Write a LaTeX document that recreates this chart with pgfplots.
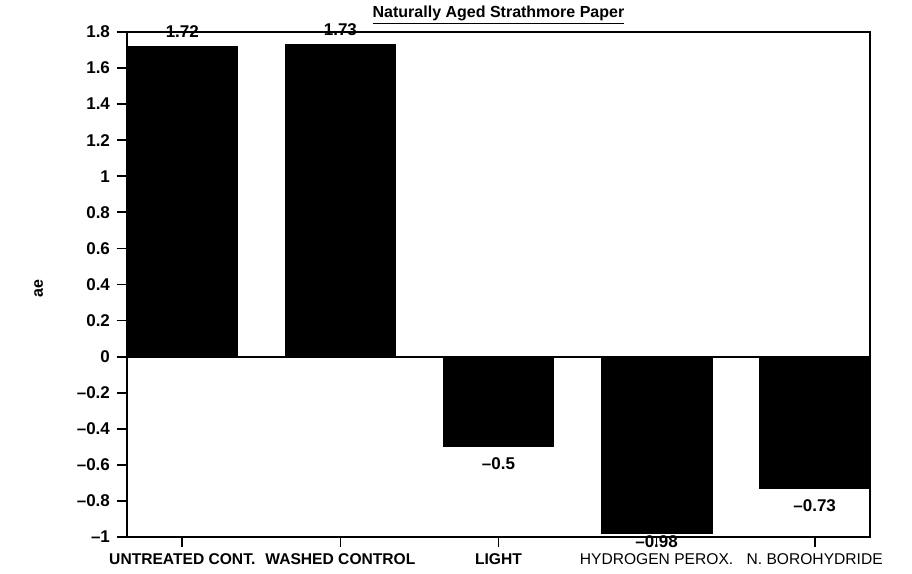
\documentclass[border=0pt]{standalone}
\usepackage{fontspec}
\setmainfont{Liberation Sans}
\usepackage{pgfplots}
\pgfplotsset{compat=1.18}

\begin{document}
\begin{tikzpicture}
\path[use as bounding box] (-63.5pt,-18.5pt) rectangle (392.5pt,268.5pt);
\begin{axis}[
    at={(0,0)}, anchor=south west,
    scale only axis,
    width=371.5pt, height=252.5pt,
    ymin=-1, ymax=1.8,
    xmin=-0.35, xmax=4.35,
    ybar, bar width=0.7,
    axis line style={line width=0.9pt},
    tick style={line width=0.9pt, black},
    tick align=outside,
    major tick length=5pt,
    xtick pos=lower, ytick pos=left,
    xtick={0,1,2,3,4},
    xticklabels={\textbf{UNTREATED CONT.}, \textbf{WASHED CONTROL}, \textbf{LIGHT}, HYDROGEN PEROX., N. BOROHYDRIDE},
    x tick label style={font=\fontsize{7.8}{9}\selectfont, yshift=0pt},
    ytick={-1,-0.8,-0.6,-0.4,-0.2,0,0.2,0.4,0.6,0.8,1,1.2,1.4,1.6,1.8},
    yticklabels={--1,--0.8,--0.6,--0.4,--0.2,0,0.2,0.4,0.6,0.8,1,1.2,1.4,1.6,1.8},
    y tick label style={font=\fontsize{8.5}{9}\selectfont\bfseries},
    ylabel={\textbf{ae}},
    ylabel style={font=\fontsize{8}{9}\selectfont, xshift=-2pt},
    title={\bfseries\underline{Naturally Aged Strathmore Paper}},
    title style={font=\fontsize{8}{9}\selectfont, yshift=-6pt},
    extra y ticks={0},
    extra y tick labels={},
    extra y tick style={grid=major, major grid style={black, line width=0.9pt}},
    point meta=explicit symbolic,
    nodes near coords,
    nodes near coords style={font=\fontsize{8.5}{9}\selectfont\bfseries},
    clip=false,
]
% positive bars
\addplot[fill=black, draw=black, bar shift=0pt,
    nodes near coords style={anchor=south, yshift=1pt}] coordinates {
    (0,1.72) [1.72]
    (1,1.73) [1.73]
};
% negative bars
\addplot[fill=black, draw=black, bar shift=0pt,
    nodes near coords style={anchor=north, yshift=-2pt}] coordinates {
    (2,-0.5) [--0.5]
    (4,-0.73) [--0.73]
};
\addplot[fill=black, draw=black, bar shift=0pt,
    nodes near coords style={anchor=north, inner sep=0.5pt, yshift=-0.5pt}] coordinates {
    (3,-0.98) [--0.98]
};
\end{axis}
\end{tikzpicture}
\end{document}
